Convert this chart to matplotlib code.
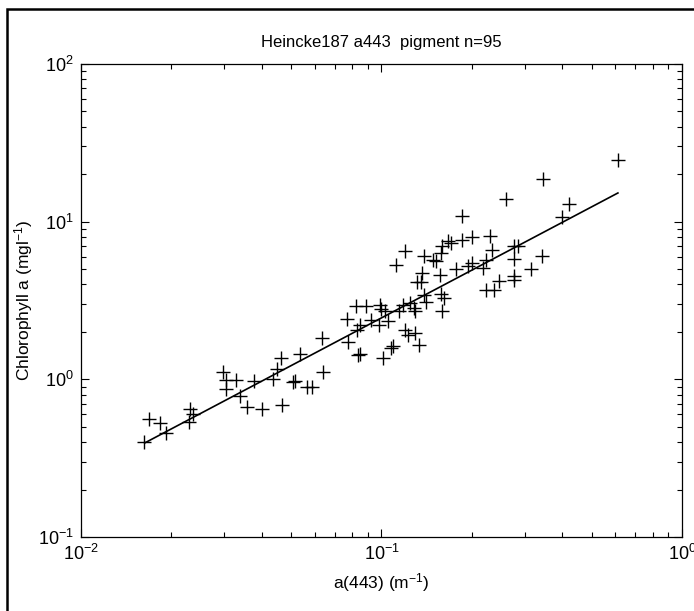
import numpy as np
import matplotlib
matplotlib.use("Agg")
import matplotlib.pyplot as plt
from matplotlib.patches import Rectangle

plt.rcParams["font.family"] = ["Liberation Sans", "DejaVu Sans"]
plt.rcParams["mathtext.fontset"] = "custom"
plt.rcParams["mathtext.rm"] = "Liberation Sans"
plt.rcParams["mathtext.it"] = "Liberation Sans:italic"
plt.rcParams["mathtext.bf"] = "Liberation Sans:bold"
plt.rcParams["axes.unicode_minus"] = False

# a(443) values (m^-1)
a443 = [0.0162, 0.0168, 0.0183, 0.0192, 0.0231, 0.0236, 0.0229, 0.0296, 0.0304, 0.0328,
        0.0304, 0.0338, 0.0357, 0.0399, 0.0377, 0.0434, 0.0448, 0.0462, 0.0536, 0.0632,
        0.0776, 0.064, 0.0506, 0.0515, 0.0564, 0.0585, 0.0466, 0.120, 0.112, 0.0822,
        0.0887, 0.0766, 0.0989, 0.100, 0.1026, 0.0848, 0.0829, 0.092, 0.0984, 0.105,
        0.114, 0.118, 0.124, 0.128, 0.129, 0.0836, 0.0851, 0.1015, 0.1074, 0.1095,
        0.120, 0.1225, 0.129, 0.1337, 0.1585, 0.136, 0.131, 0.135, 0.138, 0.141,
        0.614, 0.345, 0.260, 0.422, 0.398, 0.186, 0.230, 0.200, 0.186, 0.167,
        0.170, 0.159, 0.1575, 0.138, 0.1486, 0.1517, 0.157, 0.177, 0.1945, 0.1995,
        0.217, 0.223, 0.234, 0.275, 0.285, 0.275, 0.277, 0.275, 0.314, 0.341,
        0.223, 0.237, 0.246, 0.1575, 0.1615]

# Chlorophyll a (mg l^-1)
chl = [0.40, 0.56, 0.53, 0.46, 0.65, 0.60, 0.54, 1.12, 0.99, 0.99,
       0.87, 0.78, 0.67, 0.65, 0.97, 1.00, 1.16, 1.36, 1.45, 1.83,
       1.73, 1.12, 0.96, 0.97, 0.90, 0.89, 0.69, 6.47, 5.33, 2.90,
       2.93, 2.41, 2.97, 2.79, 2.70, 2.22, 2.06, 2.39, 2.22, 2.33,
       2.70, 2.97, 3.05, 2.83, 2.70, 1.43, 1.45, 1.36, 1.58, 1.63,
       2.06, 1.92, 1.98, 1.66, 2.70, 4.72, 4.14, 4.14, 3.44, 3.08,
       24.5, 18.7, 13.9, 13.0, 10.7, 10.9, 8.07, 7.94, 7.69, 7.50,
       7.33, 7.05, 6.33, 6.08, 5.74, 5.60, 4.60, 5.01, 5.20, 5.47,
       5.08, 5.68, 6.64, 7.05, 6.97, 5.80, 4.50, 4.28, 5.01, 6.03,
       3.66, 3.66, 4.18, 3.49, 3.29]

# regression line end points
fit_x = [0.0163, 0.612]
fit_y = [0.395, 15.2]

fig = plt.figure(figsize=(6.94, 6.11), dpi=100)
ax = fig.add_axes([0.1167, 0.1211, 0.866, 0.7742])

ax.plot(a443, chl, "+", color="black", markersize=10, markeredgewidth=1.0)
ax.plot(fit_x, fit_y, "-", color="black", linewidth=1.2)

ax.set_xscale("log")
ax.set_yscale("log")
ax.set_xlim(1e-2, 1e0)
ax.set_ylim(1e-1, 1e2)

ax.tick_params(which="both", direction="in", top=True, right=True, labelsize=13)
ax.tick_params(which="major", length=6, width=0.8, pad=5)
ax.tick_params(which="minor", length=3.5, width=0.8)
for s in ax.spines.values():
    s.set_linewidth(0.9)

ax.set_title("Heincke187 a443  pigment n=95", fontsize=12, pad=12)
ax.set_xlabel("a(443) (m$^{-1}$)", fontsize=12.5, labelpad=5)
ax.set_ylabel("Chlorophyll a (mgl$^{-1}$)", fontsize=12.5, labelpad=2)

# outer frame, partly cut off by the picture edge
fig.add_artist(Rectangle((7 / 694, -0.2), 1.2, 1.2 - 9 / 611, transform=fig.transFigure,
                         fill=False, edgecolor="black", linewidth=1.8, clip_on=False))

fig.savefig("out.png", dpi=100)
